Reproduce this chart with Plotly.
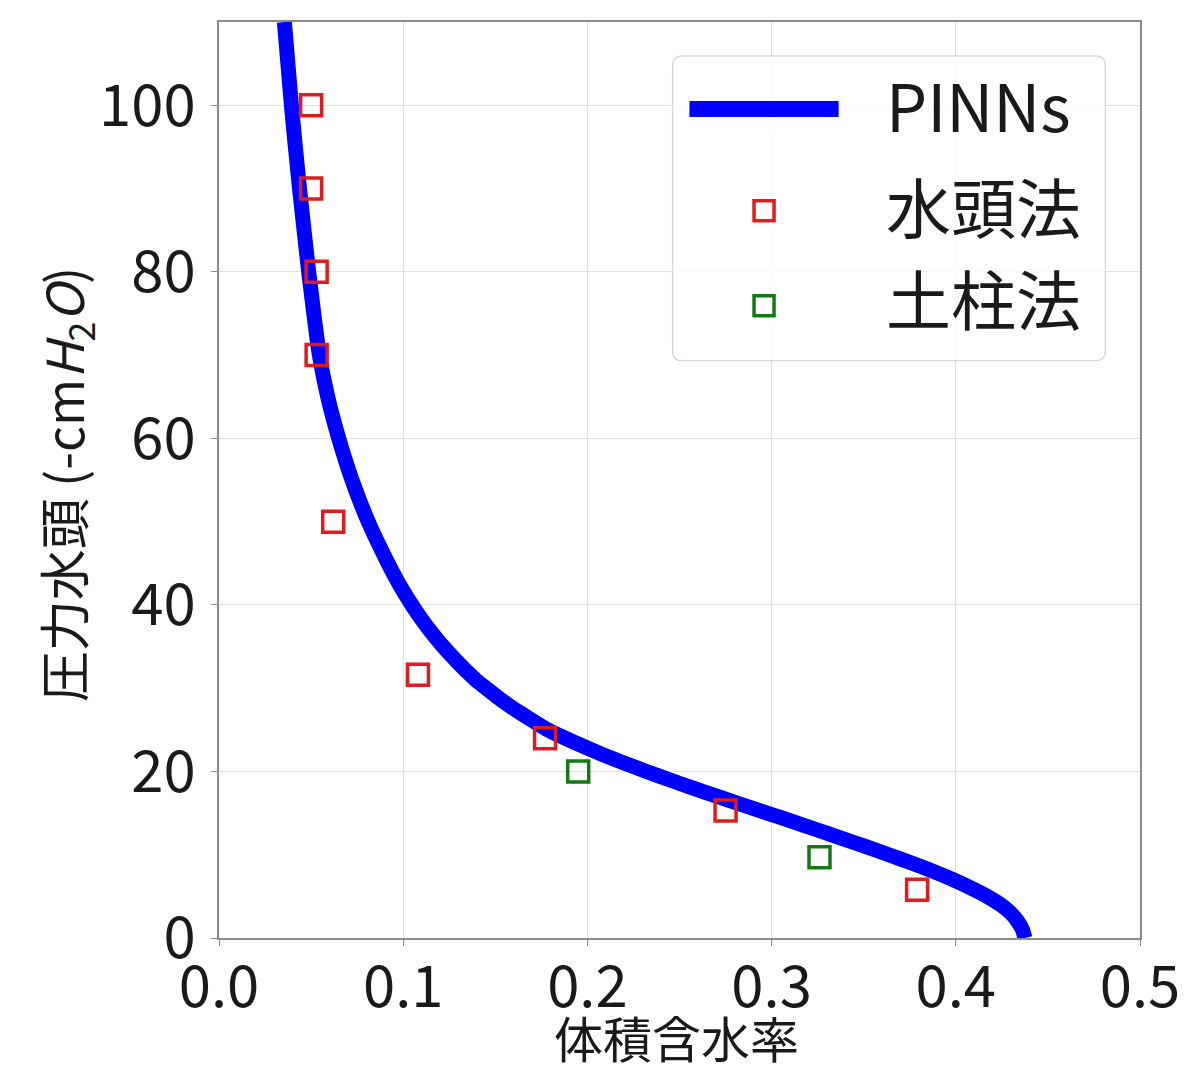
import plotly.graph_objects as go

pinns_h = [110, 100, 90, 80, 70, 65, 60, 55, 50, 45, 42, 40, 39, 38, 37, 36, 35, 34, 33, 32, 31, 30,
           29, 28, 27, 26, 25, 24, 23, 22, 21, 20, 19, 18, 17, 16, 15, 14, 13, 12, 11, 10,
           9, 8, 7, 6, 5, 4, 3, 2, 1, 0]
pinns_theta = [0.0355, 0.0393, 0.0437, 0.0487, 0.0545, 0.0590, 0.0650, 0.0722, 0.0810, 0.0918, 0.0991,
               0.1047, 0.1077, 0.1109, 0.1143, 0.1179, 0.1217, 0.1258, 0.1301, 0.1346, 0.1393, 0.1450,
               0.1507, 0.1570, 0.1638, 0.1710, 0.1785, 0.1879, 0.1979, 0.2086, 0.2200, 0.2320,
               0.2445, 0.2574, 0.2706, 0.2840, 0.2975, 0.3112, 0.3245, 0.3377, 0.3508, 0.3636,
               0.3760, 0.3878, 0.3985, 0.4082, 0.4170, 0.4243, 0.4298, 0.4336, 0.4362, 0.4375]

head_theta = [0.050, 0.050, 0.053, 0.053, 0.062, 0.108, 0.177, 0.275, 0.379]
head_h = [100, 90, 80, 70, 50, 31.6, 24, 15.3, 5.8]

column_theta = [0.195, 0.326]
column_h = [20, 9.7]

x_ticks = [0.0, 0.1, 0.2, 0.3, 0.4, 0.5]
x_ticklabels = ["0.0", "0.1", "0.2", "0.3", "0.4", "0.5"]
y_ticks = [0, 20, 40, 60, 80, 100]
y_ticklabels = ["0", "20", "40", "60", "80", "100"]

names = ["PINNs", "水頭法", "土柱法"]
x_title = "体積含水率"
y_title = "圧力水頭 (-cm<i>H</i><sub>2</sub><i>O</i>)"

# ---- styles ----
FONT = "Noto Sans CJK JP"
TXT = "#1a1a1a"
BLUE = "#0000ff"
RED = "#dd1c1c"
GREEN = "#137a13"
OFF = 8                      # page body margin of the html
W, H = 1200 - 2 * OFF, 1086 - 2 * OFF
PL, PR, PT, PB = 219, 1145, 21, 938   # plot area in page pixels


def px(x):
    return (x - PL) / (PR - PL)


def py(y):
    return (PB - y) / (PB - PT)


fig = go.Figure()
fig.add_trace(go.Scatter(x=pinns_theta, y=pinns_h, mode="lines", name=names[0],
                         line=dict(color=BLUE, width=15, shape="spline", smoothing=0.6)))
fig.add_trace(go.Scatter(x=head_theta, y=head_h, mode="markers", name=names[1],
                         marker=dict(symbol="square-open", size=21, color=RED,
                                     line=dict(color=RED, width=3.5))))
fig.add_trace(go.Scatter(x=column_theta, y=column_h, mode="markers", name=names[2],
                         marker=dict(symbol="square-open", size=21, color=GREEN,
                                     line=dict(color=GREEN, width=3.5))))

axis_common = dict(showgrid=True, gridcolor="#e0e0e0", gridwidth=1, showline=True,
                   linecolor="#8c8c8c", linewidth=1.5, mirror=True, ticks="outside",
                   ticklen=6, tickcolor="#8c8c8c", zeroline=False,
                   tickfont=dict(family=FONT, size=58, color=TXT))

fig.update_layout(
    width=W, height=H,
    margin=dict(l=PL - OFF, r=W - (PR - OFF), t=PT - OFF, b=H - (PB - OFF)),
    plot_bgcolor="white", paper_bgcolor="white",
    showlegend=False,
    font=dict(family=FONT, color=TXT),
    xaxis=dict(range=[0, 0.5], tickvals=x_ticks, ticktext=x_ticklabels, ticklabelstandoff=-8,
               **axis_common),
    yaxis=dict(range=[0, 110], tickvals=y_ticks, ticktext=y_ticklabels, ticklabelstandoff=4,
               **axis_common),
)

# axis titles
fig.add_annotation(text=x_title, xref="paper", yref="paper", x=px(679), y=py(1037),
                   xanchor="center", yanchor="middle", showarrow=False,
                   font=dict(family=FONT, size=49, color=TXT))
fig.add_annotation(text=y_title, xref="paper", yref="paper", x=px(65), y=py(484),
                   xanchor="center", yanchor="middle", showarrow=False, textangle=-90,
                   font=dict(family=FONT, size=51, color=TXT))

# ---- custom legend (matplotlib-like) ----
bx0, bx1, by0, by1, r = 675, 1110, 55, 360, 10


def P(x, y):
    return f"{px(x):.5f},{py(y):.5f}"


path = (f"M {P(bx0 + r, by0)} L {P(bx1 - r, by0)} Q {P(bx1, by0)} {P(bx1, by0 + r)} "
        f"L {P(bx1, by1 - r)} Q {P(bx1, by1)} {P(bx1 - r, by1)} "
        f"L {P(bx0 + r, by1)} Q {P(bx0, by1)} {P(bx0, by1 - r)} "
        f"L {P(bx0, by0 + r)} Q {P(bx0, by0)} {P(bx0 + r, by0)} Z")
fig.add_shape(type="path", path=path, xref="paper", yref="paper",
              fillcolor="rgba(255,255,255,0.8)", line=dict(color="#d5d5d5", width=1.2), layer="above")

fig.add_shape(type="line", xref="paper", yref="paper", x0=px(692), x1=px(842), y0=py(108), y1=py(108),
              line=dict(color=BLUE, width=16), layer="above")
for cy, col in [(210, RED), (305, GREEN)]:
    fig.add_shape(type="rect", xref="paper", yref="paper", xsizemode="pixel", ysizemode="pixel",
                  xanchor=px(767), yanchor=py(cy), x0=-10, x1=10, y0=-10, y1=10,
                  line=dict(color=col, width=3.5), fillcolor="rgba(0,0,0,0)", layer="above")

for txt, cy in zip(names, [103, 204, 296]):
    fig.add_annotation(text=txt, xref="paper", yref="paper", x=px(888), y=py(cy),
                       xanchor="left", yanchor="middle", showarrow=False,
                       font=dict(family=FONT, size=65, color=TXT))

fig.write_html("out.html")
